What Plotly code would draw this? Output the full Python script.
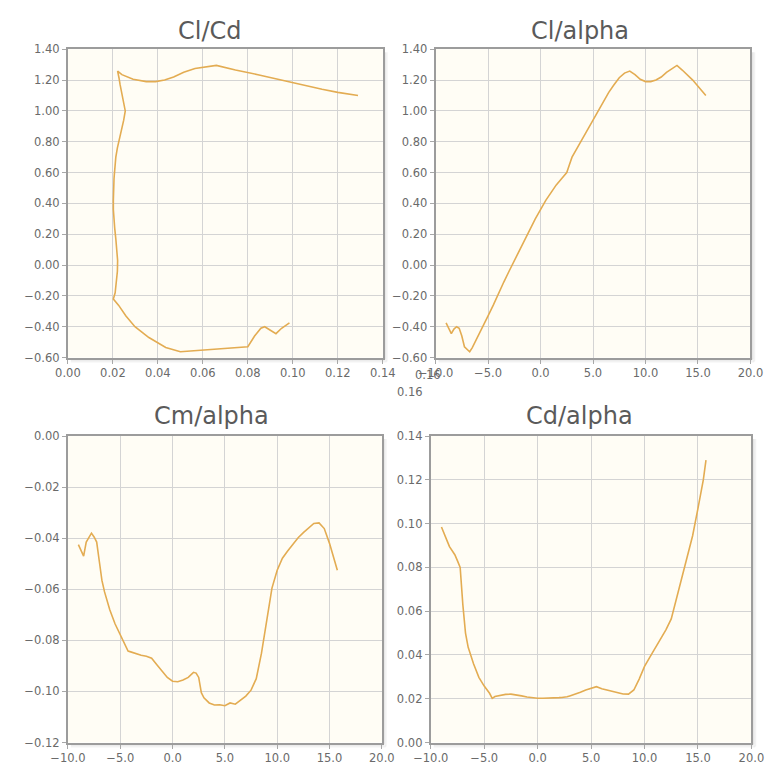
import plotly.graph_objects as go

# ---------------- data ----------------
alpha = [-9.0, -8.75, -8.5, -8.25, -8.0, -7.75, -7.5, -7.25, -7.0, -6.75,
         -6.5, -6.0, -5.5, -5.0, -4.5, -4.25, -4.0, -3.5, -3.0, -2.5,
         -2.0, -1.5, -1.0, -0.5, 0.0, 0.5, 1.0, 1.5, 2.0, 2.25,
         2.5, 2.75, 3.0, 3.5, 4.0, 4.5, 5.0, 5.5, 6.0, 6.5,
         7.0, 7.5, 8.0, 8.5, 9.0, 9.5, 10.0, 10.5, 11.0, 11.5,
         12.0, 12.5, 13.0, 13.5, 14.0, 14.5, 15.0, 15.25, 15.5, 15.75]

cl = [-0.375, -0.41, -0.445, -0.415, -0.40, -0.41, -0.46, -0.53, -0.548, -0.562,
      -0.535, -0.47, -0.40, -0.33, -0.26, -0.22, -0.18, -0.11, -0.04, 0.03,
      0.10, 0.17, 0.24, 0.30, 0.36, 0.42, 0.47, 0.52, 0.56, 0.58,
      0.60, 0.65, 0.70, 0.76, 0.82, 0.88, 0.94, 1.00, 1.06, 1.12,
      1.17, 1.215, 1.245, 1.258, 1.235, 1.205, 1.19, 1.19, 1.20, 1.22,
      1.25, 1.275, 1.295, 1.265, 1.235, 1.20, 1.16, 1.14, 1.12, 1.10]

cd = [0.0985, 0.0950, 0.0925, 0.0895, 0.0875, 0.0858, 0.0830, 0.0800, 0.0630, 0.0500,
      0.0435, 0.0360, 0.0298, 0.0258, 0.0225, 0.0202, 0.0210, 0.0216, 0.0220, 0.0221,
      0.0218, 0.0213, 0.0208, 0.0204, 0.0202, 0.0202, 0.0202, 0.0203, 0.0205, 0.0206,
      0.0207, 0.0209, 0.0213, 0.0220, 0.0230, 0.0240, 0.0248, 0.0255, 0.0246, 0.0240,
      0.0232, 0.0227, 0.0222, 0.0221, 0.0240, 0.0290, 0.0348, 0.0390, 0.0430, 0.0470,
      0.0515, 0.0565, 0.0660, 0.0745, 0.0845, 0.0945, 0.1070, 0.1130, 0.1200, 0.1290]

cm = [-0.0425, -0.0450, -0.0470, -0.0415, -0.0395, -0.0380, -0.0395, -0.0415, -0.0490, -0.0565,
      -0.0610, -0.0680, -0.0735, -0.0778, -0.0815, -0.0842, -0.0845, -0.0852, -0.0858, -0.0862,
      -0.0870, -0.0895, -0.0920, -0.0945, -0.0960, -0.0962, -0.0955, -0.0945, -0.0925, -0.0928,
      -0.0945, -0.1005, -0.1025, -0.1045, -0.1053, -0.1052, -0.1056, -0.1045, -0.1050, -0.1035,
      -0.1018, -0.0995, -0.0950, -0.0850, -0.0720, -0.0595, -0.0525, -0.0478, -0.0450, -0.0422,
      -0.0398, -0.0378, -0.0360, -0.0342, -0.0340, -0.0362, -0.0420, -0.0455, -0.0490, -0.0525]

titles = ["Cl/Cd", "Cl/alpha", "Cm/alpha", "Cd/alpha"]
cd_ticks = [0.00, 0.02, 0.04, 0.06, 0.08, 0.10, 0.12, 0.14]
cl_ticks = [-0.60, -0.40, -0.20, 0.00, 0.20, 0.40, 0.60, 0.80, 1.00, 1.20, 1.40]
alpha_ticks = [-10.0, -5.0, 0.0, 5.0, 10.0, 15.0, 20.0]
cm_ticks = [-0.12, -0.10, -0.08, -0.06, -0.04, -0.02, 0.00]
cd_alpha_ticks = [0.00, 0.02, 0.04, 0.06, 0.08, 0.10, 0.12, 0.14]
overflow_label = "0.16"

# ---------------- layout helpers ----------------
W, H = 774, 778
def px(x):
    return x / W
def py(y):
    return 1 - y / H

FONT = "DejaVu Sans, Verdana, sans-serif"
LINE = "#e3ac52"

# plot areas in pixels: (left, right, top, bottom)
boxes = [(52, 380, 43, 357), (435, 763, 43, 357),
         (52, 379, 437, 749), (430, 764, 437, 749)]

fig = go.Figure()
line = dict(color=LINE, width=1.6)
fig.add_trace(go.Scatter(x=cd, y=cl, xaxis="x", yaxis="y", mode="lines", line=line))
fig.add_trace(go.Scatter(x=alpha, y=cl, xaxis="x2", yaxis="y2", mode="lines", line=line))
fig.add_trace(go.Scatter(x=alpha, y=cm, xaxis="x3", yaxis="y3", mode="lines", line=line))
fig.add_trace(go.Scatter(x=alpha, y=cd, xaxis="x4", yaxis="y4", mode="lines", line=line))

tick_font = dict(family=FONT, size=11.5, color="#6a6a6a")
common = dict(showline=True, mirror=True, linecolor="#9c9c9c", linewidth=2,
              showgrid=True, gridcolor="#d4d4d4", gridwidth=1,
              ticks="outside", ticklen=4, tickcolor="#a8a8a8",
              tickfont=tick_font, zeroline=False, fixedrange=True, tickmode="array")

axes_cfg = [
    (cd_ticks, ".2f", [0, 0.14], cl_ticks, ".2f", [-0.6, 1.4]),
    (alpha_ticks, ".1f", [-10, 20], cl_ticks, ".2f", [-0.6, 1.4]),
    (alpha_ticks, ".1f", [-10, 20], cm_ticks, ".2f", [-0.12, 0.0]),
    (alpha_ticks, ".1f", [-10, 20], cd_alpha_ticks, ".2f", [0.0, 0.14]),
]

layout = dict(width=W, height=H, margin=dict(l=0, r=0, t=0, b=0),
              paper_bgcolor="white", plot_bgcolor="#fffdf5", showlegend=False)
shapes = []
for i, ((l, r, t, b), (xt, xf, xr, yt, yf, yr)) in enumerate(zip(boxes, axes_cfg)):
    n = "" if i == 0 else str(i + 1)
    layout["xaxis" + n] = dict(common, domain=[px(l), px(r)], range=xr, tickvals=xt,
                               tickformat=xf, anchor="y" + n)
    layout["yaxis" + n] = dict(common, domain=[py(b), py(t)], range=yr, tickvals=yt,
                               tickformat=yf, anchor="x" + n)
    # soft shadow along bottom and right edge
    for k, a in ((2, 0.10), (4, 0.05)):
        shapes.append(dict(type="line", xref="paper", yref="paper", layer="below",
                           x0=px(l + 3), x1=px(r + k), y0=py(b + k), y1=py(b + k),
                           line=dict(color="rgba(0,0,0,%.2f)" % a, width=2)))
        shapes.append(dict(type="line", xref="paper", yref="paper", layer="below",
                           x0=px(r + k), x1=px(r + k), y0=py(t + 3), y1=py(b + k),
                           line=dict(color="rgba(0,0,0,%.2f)" % a, width=2)))
layout["shapes"] = shapes

title_pos = [(200, 24), (585, 24), (202, 416), (585, 416)]
ann = []
for txt, (x, y) in zip(titles, title_pos):
    ann.append(dict(text=txt, x=px(x), y=py(y), xref="paper", yref="paper",
                    xanchor="center", yanchor="middle", showarrow=False,
                    font=dict(family=FONT, size=24, color="#5a5a5a")))
# overflowing tick label of the first chart
ann.append(dict(text=overflow_label, x=px(427), y=py(375), xref="paper", yref="paper",
                xanchor="center", yanchor="middle", showarrow=False, font=tick_font))
ann.append(dict(text=overflow_label, x=px(408), y=py(392), xref="paper", yref="paper",
                xanchor="center", yanchor="middle", showarrow=False, font=tick_font))
layout["annotations"] = ann

fig.update_layout(**layout)
fig.write_html("out.html")
